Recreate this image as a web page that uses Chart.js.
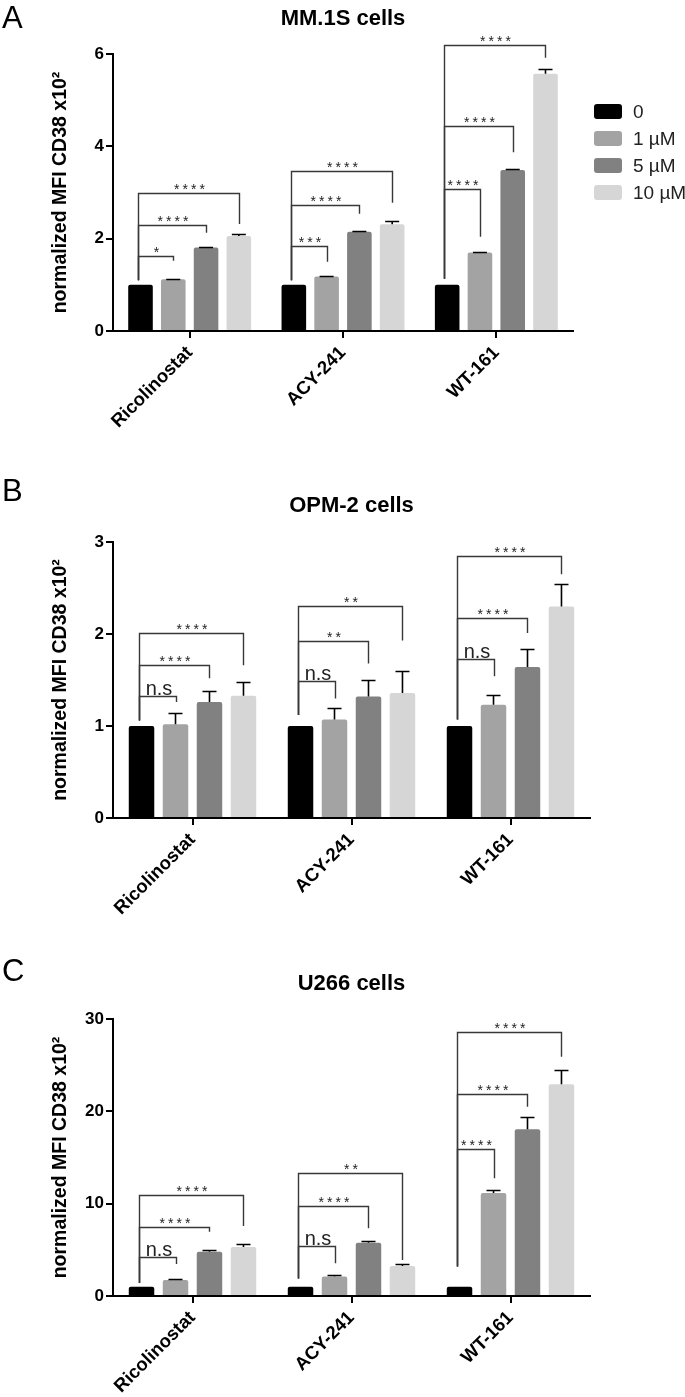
<!DOCTYPE html>
<html>
<head>
<meta charset="utf-8">
<script src="https://cdn.jsdelivr.net/npm/chart.js@4.4.0/dist/chart.umd.min.js"></script>
<style>
	html, body { margin: 0; padding: 0; background: #fff; }
	body { width: 685px; height: 1397px; position: relative; overflow: hidden; }
	.panel { position: absolute; left: 0; width: 685px; }
</style>
</head>
<body>
<div class="panel" style="top:0;height:470px"><canvas id="chart-a"></canvas></div>
<div class="panel" style="top:470px;height:480px"><canvas id="chart-b"></canvas></div>
<div class="panel" style="top:950px;height:447px"><canvas id="chart-c"></canvas></div>
<script>
;(function () {
	"use strict"

	var GROUPS = ["Ricolinostat", "ACY-241", "WT-161"]
	var DOSES = ["0", "1 µM", "5 µM", "10 µM"]

	// rows = dose, columns = group
	var MM1S_MEAN = [[1, 1, 1], [1.12, 1.18, 1.7], [1.81, 2.15, 3.49], [2.06, 2.31, 5.57]]
	var MM1S_SEM = [[0, 0, 0], [0.01, 0.01, 0.01], [0.01, 0.02, 0.02], [0.05, 0.07, 0.11]]
	// [group, dose, bracket top, right leg end, label]
	var MM1S_SIG = [
		[0, 1, 1.63, 1.52, "*"], [0, 2, 2.29, 2.13, "****"], [0, 3, 2.99, 2.32, "****"],
		[1, 1, 1.85, 1.5, "***"], [1, 2, 2.73, 2.54, "****"], [1, 3, 3.46, 2.78, "****"],
		[2, 1, 3.07, 2.04, "****"], [2, 2, 4.45, 3.87, "****"], [2, 3, 6.19, 5.92, "****"],
	]
	var MM1S_LEFT = [1.1, 1.1, 1.13]

	var OPM2_MEAN = [[1, 1, 1], [1.02, 1.07, 1.23], [1.26, 1.32, 1.64], [1.33, 1.36, 2.3]]
	var OPM2_SEM = [[0, 0, 0], [0.12, 0.13, 0.11], [0.12, 0.18, 0.2], [0.15, 0.24, 0.24]]
	var OPM2_SIG = [
		[0, 1, 1.33, 1.26, "n.s"], [0, 2, 1.66, 1.52, "****"], [0, 3, 2.01, 1.66, "****"],
		[1, 1, 1.49, 1.3, "n.s"], [1, 2, 1.92, 1.68, "**"], [1, 3, 2.3, 1.93, "**"],
		[2, 1, 1.73, 1.54, "n.s"], [2, 2, 2.17, 2.01, "****"], [2, 3, 2.85, 2.65, "****"],
	]
	var OPM2_LEFT = [1.06, 1.12, 1.07]

	var U266_MEAN = [[1, 1, 1], [1.73, 2.1, 11.15], [4.8, 5.77, 18.05], [5.3, 3.25, 22.93]]
	var U266_SEM = [[0, 0, 0], [0.1, 0.15, 0.35], [0.15, 0.22, 1.3], [0.3, 0.25, 1.6]]
	var U266_SIG = [
		[0, 1, 4.26, 3.47, "n.s"], [0, 2, 7.5, 6.97, "****"], [0, 3, 10.94, 7.58, "****"],
		[1, 1, 5.38, 3.54, "n.s"], [1, 2, 9.71, 7.33, "****"], [1, 3, 13.36, 3.9, "**"],
		[2, 1, 15.88, 12.74, "****"], [2, 2, 21.84, 20.5, "****"], [2, 3, 28.56, 25.9, "****"],
	]
	var U266_LEFT = [1.4, 1.9, 3.2]

	var FONT = '"Liberation Sans", Arial, Helvetica, sans-serif'
	var INK = "#000"
	var BRACKET = "#383838"
	var BAR_COLORS = ["#000000", "#a3a3a3", "#818181", "#d6d6d6"]

	Chart.defaults.font.family = FONT
	Chart.defaults.color = INK

	function overlay(cfg) {
		return {
			id: "overlay",
			afterDatasetsDraw: function (chart) {
				var ctx = chart.ctx
				var y = chart.scales.y
				ctx.save()

				// SEM, upper whisker only
				ctx.strokeStyle = INK
				ctx.lineWidth = 1.6
				for (var d = 0; d < cfg.mean.length; d++) {
					var meta = chart.getDatasetMeta(d)
					for (var g = 0; g < cfg.mean[d].length; g++) {
						var e = cfg.sem[d][g]
						if (!e) continue
						var bar = meta.data[g]
						var yt = Math.round(y.getPixelForValue(cfg.mean[d][g] + e)) + 0.5
						ctx.beginPath()
						ctx.moveTo(bar.x, bar.y)
						ctx.lineTo(bar.x, yt)
						ctx.moveTo(bar.x - 7, yt)
						ctx.lineTo(bar.x + 7, yt)
						ctx.stroke()
					}
				}

				// significance brackets
				ctx.strokeStyle = BRACKET
				ctx.fillStyle = "#222"
				ctx.lineWidth = 1.4
				ctx.textAlign = "center"
				cfg.sig.forEach(function (s) {
					var g = s[0]
					var xl = Math.round(chart.getDatasetMeta(0).data[g].x) - 2.5
					var xr = Math.round(chart.getDatasetMeta(s[1]).data[g].x) + 0.5
					var top = Math.round(y.getPixelForValue(s[2])) + 0.5
					ctx.beginPath()
					ctx.moveTo(xl, y.getPixelForValue(cfg.left[g]))
					ctx.lineTo(xl, top)
					ctx.lineTo(xr, top)
					ctx.lineTo(xr, y.getPixelForValue(s[3]))
					ctx.stroke()
					if (s[4] === "n.s") {
						ctx.font = "20px " + FONT
						ctx.letterSpacing = "0px"
						ctx.fillText(s[4], (xl + xr) / 2 + 1, top - 2)
					} else {
						ctx.font = "14px " + FONT
						ctx.letterSpacing = "3px"
						ctx.fillText(s[4], (xl + xr) / 2 + 2, top)
					}
				})
				ctx.restore()
			},
			afterDraw: function (chart) {
				var ctx = chart.ctx
				var area = chart.chartArea
				ctx.save()
				ctx.fillStyle = INK
				ctx.textAlign = "left"
				ctx.font = "31px " + FONT
				ctx.fillText(cfg.letter, 2, cfg.letterY)
				ctx.textAlign = "center"
				ctx.font = "bold 22px " + FONT
				ctx.fillText(cfg.title, (area.left + area.right) / 2, cfg.titleY)

				if (cfg.legend) {
					var lx = area.right + 21
					ctx.textAlign = "left"
					ctx.font = "19px " + FONT
					chart.data.datasets.forEach(function (ds, i) {
						var ty = 104 + i * 27
						ctx.fillStyle = ds.backgroundColor
						ctx.beginPath()
						ctx.roundRect(lx, ty, 28, 15, 3)
						ctx.fill()
						ctx.fillStyle = "#222"
						ctx.fillText(ds.label, lx + 39, ty + 14)
					})
				}
				ctx.restore()
			},
		}
	}

	function panel(id, cfg) {
		new Chart(document.getElementById(id), {
			type: "bar",
			data: {
				labels: GROUPS,
				datasets: DOSES.map(function (lab, i) {
					return {
						label: lab,
						data: cfg.mean[i],
						backgroundColor: BAR_COLORS[i],
						borderWidth: 0,
						borderRadius: 2,
						barPercentage: 0.75,
						categoryPercentage: 0.855,
					}
				}),
			},
			options: {
				responsive: true,
				maintainAspectRatio: false,
				animation: false,
				layout: { padding: { top: cfg.top, right: cfg.right, left: 0, bottom: 0 } },
				plugins: { legend: { display: false }, tooltip: { enabled: false } },
				scales: {
					x: {
						grid: {
							display: true,
							drawOnChartArea: false,
							offset: false,
							tickLength: 7,
							color: INK,
							lineWidth: 2,
						},
						border: { display: true, color: INK, width: 2 },
						ticks: {
							color: INK,
							font: { size: 18.5, weight: "bold" },
							minRotation: 45,
							maxRotation: 45,
							autoSkip: false,
							padding: 4,
						},
						afterFit: function (s) {
							s.height = cfg.xh
						},
					},
					y: {
						min: 0,
						max: cfg.max,
						grid: {
							display: true,
							drawOnChartArea: false,
							tickLength: 7,
							color: INK,
							lineWidth: 2,
						},
						border: { display: true, color: INK, width: 2 },
						ticks: {
							stepSize: cfg.step,
							color: INK,
							padding: 2,
							font: { size: 17, weight: "bold" },
						},
						title: {
							display: true,
							text: "normalized MFI CD38 x10²",
							color: INK,
							font: { size: 19.5, weight: "bold" },
							padding: { top: 49 },
						},
						afterFit: function (s) {
							s.width = 113
						},
					},
				},
			},
			plugins: [overlay(cfg)],
		})
	}

	panel("chart-a", {
		letter: "A", title: "MM.1S cells", letterY: 28, titleY: 25,
		mean: MM1S_MEAN, sem: MM1S_SEM, sig: MM1S_SIG, left: MM1S_LEFT,
		max: 6, step: 2, top: 54, right: 112, xh: 139, legend: true,
	})
	panel("chart-b", {
		letter: "B", title: "OPM-2 cells", letterY: 31, titleY: 41.5,
		mean: OPM2_MEAN, sem: OPM2_SEM, sig: OPM2_SIG, left: OPM2_LEFT,
		max: 3, step: 1, top: 72, right: 95, xh: 132, legend: false,
	})
	panel("chart-c", {
		letter: "C", title: "U266 cells", letterY: 31, titleY: 39.5,
		mean: U266_MEAN, sem: U266_SEM, sig: U266_SIG, left: U266_LEFT,
		max: 30, step: 10, top: 69, right: 95, xh: 101, legend: false,
	})
})()
</script>
</body>
</html>
